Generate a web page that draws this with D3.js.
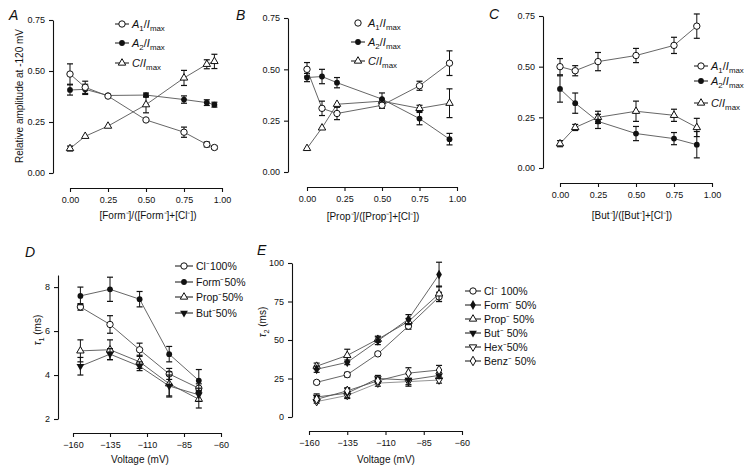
<!DOCTYPE html>
<html><head><meta charset="utf-8">
<script src="https://cdn.jsdelivr.net/npm/d3@7"></script>
<style>
body{margin:0;background:#fff}
svg{display:block}
text{font-family:"Liberation Sans",Arial,Helvetica,sans-serif;fill:#111}
</style>
</head><body>
<svg id="c" width="750" height="475"></svg>
<script>
// ---------- DATA ----------
const fracTicks = [0, 0.25, 0.5, 0.75, 1.0];
const ampTicks = [0, 0.25, 0.5, 0.75];

// Panel A (formate)
const xA = [0, 0.1, 0.25, 0.5, 0.75, 0.9, 0.95];
const a1A = [0.485, 0.42, 0.377, 0.26, 0.20, 0.14, 0.125];
const a1AErr = [0.05, 0.03, 0.005, 0.005, 0.025, 0.012, 0.008];
const a2A = [0.407, 0.41, 0.38, 0.382, 0.36, 0.345, 0.335];
const a2AErr = [0.025, 0.025, 0.005, 0.01, 0.018, 0.014, 0.012];
const cA = [0.12, 0.18, 0.23, 0.335, 0.466, 0.533, 0.547];
const cAErr = [0.012, 0.005, 0.005, 0.04, 0.037, 0.022, 0.035];

// Panel B (propionate)
const xB = [0, 0.1, 0.2, 0.5, 0.75, 0.95];
const a1B = [0.50, 0.31, 0.285, 0.325, 0.42, 0.53];
const a1BErr = [0.033, 0.035, 0.03, 0.015, 0.022, 0.06];
const a2B = [0.46, 0.465, 0.435, 0.355, 0.26, 0.16];
const a2BErr = [0.02, 0.035, 0.025, 0.03, 0.03, 0.028];
const cB = [0.115, 0.215, 0.33, 0.345, 0.31, 0.335];
const cBErr = [0.005, 0.005, 0.006, 0.01, 0.015, 0.07];

// Panel C (butyrate)
const xC = [0, 0.1, 0.25, 0.5, 0.75, 0.9];
const a1C = [0.50, 0.48, 0.525, 0.555, 0.605, 0.70];
const a1CErr = [0.04, 0.025, 0.045, 0.035, 0.04, 0.06];
const a2C = [0.39, 0.32, 0.23, 0.17, 0.145, 0.115];
const a2CErr = [0.065, 0.05, 0.035, 0.035, 0.03, 0.065];
const cC = [0.12, 0.20, 0.25, 0.28, 0.26, 0.20];
const cCErr = [0.015, 0.015, 0.03, 0.05, 0.03, 0.045];

// Panels D, E (voltage dependence)
const voltTicks = [-160, -135, -110, -85, -60];
const volts = [-155, -135, -115, -95, -75];
const tau1Ticks = [2, 4, 6, 8];
const tau2Ticks = [0, 25, 50, 75, 100];

const clD = [7.1, 6.3, 5.15, 4.05, 3.4];
const clDErr = [0.15, 0.4, 0.3, 0.25, 0.2];
const formD = [7.6, 7.9, 7.45, 4.95, 3.75];
const formDErr = [0.4, 0.55, 0.35, 0.35, 0.5];
const propD = [5.1, 5.15, 4.6, 3.6, 2.9];
const propDErr = [0.5, 0.45, 0.3, 0.55, 0.4];
const butD = [4.4, 4.95, 4.4, 3.5, 3.1];
const butDErr = [0.4, 0.25, 0.2, 0.5, 0.3];

const clE = [22.5, 27.5, 41, 59, 78];
const clEErr = [1, 1.5, 1, 2, 3];
const formE = [31, 35.5, 49.5, 63.5, 92.5];
const formEErr = [2, 1.5, 2.5, 3, 8];
const propE = [33, 40, 50.5, 62, 80];
const propEErr = [2, 4, 2, 2, 5];
const butE = [13, 15.5, 25, 24, 27];
const butEErr = [2, 3, 2, 4, 2];
const hexE = [10, 14, 22, 23, 24];
const hexEErr = [1, 2, 2, 2, 2];
const benzE = [11.5, 17, 23.5, 28.5, 30.5];
const benzEErr = [1, 2, 1.5, 3.5, 3];

// ---------- DRAWING ----------
const svg = d3.select("#c");
const LINE = "#555";

function marker(g, type, x, y) {
  const s = {
    oc: () => g.append("circle").attr("r", 3.2).attr("fill", "#fff").attr("stroke", "#111").attr("stroke-width", 1),
    fc: () => g.append("circle").attr("r", 2.9).attr("fill", "#111"),
    ot: () => g.append("path").attr("d", d3.symbol().type(d3.symbolTriangle).size(24)()).attr("fill", "#fff").attr("stroke", "#111").attr("stroke-width", 1),
    fdt: () => g.append("path").attr("d", d3.symbol().type(d3.symbolTriangle).size(26)()).attr("fill", "#111"),
    odt: () => g.append("path").attr("d", d3.symbol().type(d3.symbolTriangle).size(24)()).attr("fill", "#fff").attr("stroke", "#111").attr("stroke-width", 1),
    od: () => g.append("path").attr("d", d3.symbol().type(d3.symbolDiamond).size(26)()).attr("fill", "#fff").attr("stroke", "#111").attr("stroke-width", 1),
    fd: () => g.append("path").attr("d", d3.symbol().type(d3.symbolDiamond).size(28)()).attr("fill", "#111")
  }[type]();
  const rot = (type === "fdt" || type === "odt") ? " rotate(180)" : "";
  s.attr("transform", `translate(${x},${y})${rot}`);
}

function series(g, xs, ys, errs, xScale, yScale, type, lineColor) {
  const line = d3.line().x((d, i) => xScale(xs[i])).y(d => yScale(d));
  g.append("path").datum(ys).attr("d", line).attr("fill", "none")
    .attr("stroke", lineColor || LINE).attr("stroke-width", 0.9);
  ys.forEach((v, i) => {
    const x = xScale(xs[i]);
    const y1 = yScale(v + errs[i]), y0 = yScale(v - errs[i]);
    if (Math.abs(y1 - y0) > 3) {
      g.append("line").attr("x1", x).attr("x2", x).attr("y1", y1).attr("y2", y0).attr("stroke", "#111").attr("stroke-width", 1);
      [y0, y1].forEach(yy => g.append("line").attr("x1", x - 3).attr("x2", x + 3).attr("y1", yy).attr("y2", yy).attr("stroke", "#111").attr("stroke-width", 1.2));
    }
  });
  ys.forEach((v, i) => marker(g, type, xScale(xs[i]), yScale(v)));
}

function axes(xScale, yScale, xAxisY, yAxisX, xTicks, yTicks, xFmt, yFmt) {
  const gx = svg.append("g").attr("transform", `translate(0,${xAxisY})`)
    .call(d3.axisBottom(xScale).tickValues(xTicks).tickFormat(xFmt).tickSize(4).tickSizeOuter(0));
  const gy = svg.append("g").attr("transform", `translate(${yAxisX},0)`)
    .call(d3.axisLeft(yScale).tickValues(yTicks).tickFormat(yFmt).tickSize(4).tickSizeOuter(0));
  [gx, gy].forEach(g => {
    g.selectAll("text").attr("font-size", 9).attr("font-family", "'Liberation Sans',Arial,sans-serif").attr("fill", "#111");
    g.selectAll("line,path").attr("stroke", "#111").attr("stroke-width", 1.1);
  });
  gx.selectAll("text").attr("dy", "0.9em");
  gy.selectAll("text").attr("dx", "-0.1em");
}

function rich(x, y, parts, size, anchor) {
  const t = svg.append("text").attr("x", x).attr("y", y).attr("font-size", size).attr("text-anchor", anchor || "start");
  let shift = 0;
  parts.forEach(p => {
    const ts = t.append("tspan").text(p.t);
    let target = p.sub ? 3 : 0;
    if (target !== shift) { ts.attr("dy", target - shift); shift = target; }
    if (p.sub) ts.attr("font-size", size * 0.72);
    if (p.i) ts.attr("font-style", "italic");
  });
  return t;
}

const A1LBL = [{t: "A", i: 1}, {t: "1", sub: 1}, {t: "/"}, {t: "I", i: 1}, {t: "max", sub: 1}];
const A2LBL = [{t: "A", i: 1}, {t: "2", sub: 1}, {t: "/"}, {t: "I", i: 1}, {t: "max", sub: 1}];
const CLBL = [{t: "C", i: 1}, {t: "/"}, {t: "I", i: 1}, {t: "max", sub: 1}];

function legendItem(x, y, type, parts, size, noLine, lineHalf) {
  const h = lineHalf || 7;
  const g = svg.append("g");
  if (!noLine) g.append("line").attr("x1", x - h).attr("x2", x + h).attr("y1", y).attr("y2", y).attr("stroke", "#111").attr("stroke-width", 1);
  marker(g, type, x, y);
  rich(x + h + 3, y + 3.5, parts, size);
}

const f2 = d3.format(".2f");
const fi = d3.format("d");

// Panel letters
[["A", 9, 20], ["B", 236, 20], ["C", 489, 19], ["D", 25, 257], ["E", 257, 255]].forEach(([l, x, y]) =>
  svg.append("text").attr("x", x).attr("y", y).attr("font-size", 14).attr("font-style", "italic").text(l));

// ----- Panel A -----
{
  const x = d3.scaleLinear().domain([0, 1]).range([70, 222]);
  const y = d3.scaleLinear().domain([0, 0.75]).range([173, 20]);
  axes(x, y, 188, 53, fracTicks, ampTicks, f2, f2);
  const g = svg.append("g");
  series(g, xA, cA, cAErr, x, y, "ot");
  series(g, xA, a2A, a2AErr, x, y, "fc");
  series(g, xA, a1A, a1AErr, x, y, "oc");
  legendItem(122, 24, "oc", A1LBL, 11);
  legendItem(122, 43, "fc", A2LBL, 11);
  legendItem(122, 63, "ot", CLBL, 11);
  svg.append("text").attr("transform", "translate(23,96) rotate(-90)").attr("text-anchor", "middle")
    .attr("font-size", 10).text("Relative amplitude at -120 mV");
  svg.append("text").attr("x", 148).attr("y", 219).attr("text-anchor", "middle").attr("font-size", 10)
    .text("[Form\u207B]/([Form\u207B]+[Cl\u207B])");
}

// ----- Panel B -----
{
  const x = d3.scaleLinear().domain([0, 1]).range([307, 457]);
  const y = d3.scaleLinear().domain([0, 0.75]).range([172, 18]);
  axes(x, y, 187, 288, fracTicks, ampTicks, f2, f2);
  const g = svg.append("g");
  series(g, xB, cB, cBErr, x, y, "ot");
  series(g, xB, a2B, a2BErr, x, y, "fc");
  series(g, xB, a1B, a1BErr, x, y, "oc");
  legendItem(358, 23, "oc", A1LBL, 11, true);
  legendItem(358, 42, "fc", A2LBL, 11);
  legendItem(358, 61, "ot", CLBL, 11);
  svg.append("text").attr("x", 373).attr("y", 220).attr("text-anchor", "middle").attr("font-size", 10)
    .text("[Prop\u207B]/([Prop\u207B]+[Cl\u207B])");
}

// ----- Panel C -----
{
  const x = d3.scaleLinear().domain([0, 1]).range([560, 712]);
  const y = d3.scaleLinear().domain([0, 0.75]).range([168, 16]);
  axes(x, y, 183, 543, fracTicks, ampTicks, f2, f2);
  const g = svg.append("g");
  series(g, xC, cC, cCErr, x, y, "ot");
  series(g, xC, a2C, a2CErr, x, y, "fc");
  series(g, xC, a1C, a1CErr, x, y, "oc");
  legendItem(701, 66, "oc", A1LBL, 11);
  legendItem(701, 81, "fc", A2LBL, 11);
  legendItem(701, 103, "ot", CLBL, 11);
  svg.append("text").attr("x", 632).attr("y", 219).attr("text-anchor", "middle").attr("font-size", 10)
    .text("[But\u207B]/([But\u207B]+[Cl\u207B])");
}

// ----- Panel D -----
{
  const x = d3.scaleLinear().domain([-160, -60]).range([73, 221]);
  const y = d3.scaleLinear().domain([2, 8.55]).range([419, 275]);
  axes(x, y, 433, 58, voltTicks, tau1Ticks, fi, fi);
  const g = svg.append("g");
  series(g, volts, clD, clDErr, x, y, "oc");
  series(g, volts, formD, formDErr, x, y, "fc");
  series(g, volts, propD, propDErr, x, y, "ot");
  series(g, volts, butD, butDErr, x, y, "fdt");
  const names = ["Cl\u207B100%", "Form\u207B50%", "Prop\u207B50%", "But\u207B50%"];
  const types = ["oc", "fc", "ot", "fdt"];
  [266, 282, 297, 313].forEach((yy, i) => legendItem(184, yy, types[i], [{t: names[i]}], 10.5, false, 9));
  rich(41, 330, [{t: "\u03C4", i: 1}, {t: "1", sub: 1}, {t: " (ms)"}], 10, "middle")
    .attr("transform", "rotate(-90,41,330)");
  svg.append("text").attr("x", 140).attr("y", 463).attr("text-anchor", "middle").attr("font-size", 10).text("Voltage (mV)");
}

// ----- Panel E -----
{
  const x = d3.scaleLinear().domain([-160, -60]).range([309, 462]);
  const y = d3.scaleLinear().domain([0, 100]).range([417, 263]);
  axes(x, y, 431, 292, voltTicks, tau2Ticks, fi, fi);
  const g = svg.append("g");
  series(g, volts, hexE, hexEErr, x, y, "odt", "#888");
  series(g, volts, butE, butEErr, x, y, "fdt");
  series(g, volts, benzE, benzEErr, x, y, "od");
  series(g, volts, clE, clEErr, x, y, "oc");
  series(g, volts, propE, propEErr, x, y, "ot");
  series(g, volts, formE, formEErr, x, y, "fd");
  const names = ["Cl\u207B 100%", "Form\u207B 50%", "Prop\u207B 50%", "But\u207B 50%", "Hex\u207B50%", "Benz\u207B 50%"];
  const types = ["oc", "fd", "ot", "fdt", "odt", "od"];
  [291, 305, 319, 333, 347, 361].forEach((yy, i) => legendItem(473, yy, types[i], [{t: names[i]}], 10.5, false, 8));
  rich(266, 322, [{t: "\u03C4", i: 1}, {t: "2", sub: 1}, {t: " (ms)"}], 10, "middle")
    .attr("transform", "rotate(-90,266,322)");
  svg.append("text").attr("x", 386).attr("y", 463).attr("text-anchor", "middle").attr("font-size", 10).text("Voltage (mV)");
}
</script>
</body></html>
